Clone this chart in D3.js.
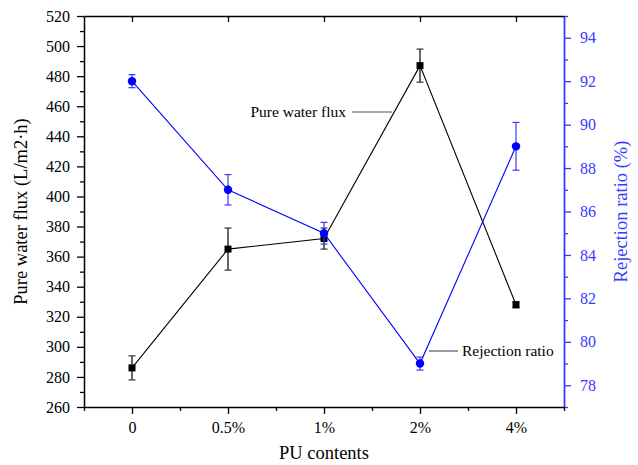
<!DOCTYPE html>
<html><head><meta charset="utf-8">
<script src="https://cdn.jsdelivr.net/npm/d3@7"></script>
<style>body{margin:0;background:#fff}svg{display:block}svg text{font-family:'Times New Roman',Times,'Liberation Serif','DejaVu Serif',serif !important}</style>
</head><body><svg id="c" width="638" height="465"></svg>
<script>
const categories = ["0","0.5%","1%","2%","4%"];
const fluxValues = [286, 365, 372, 487, 328];
const fluxErrors = [8, 14, 7, 11, 2];
const rejectionValues = [92, 87, 85, 79, 89];
const rejectionErrors = [0.3, 0.7, 0.5, 0.3, 1.1];
const leftTicks = [260,280,300,320,340,360,380,400,420,440,460,480,500,520];
const rightTicks = [78,80,82,84,86,88,90,92,94];

const FONT = "'Times New Roman', Times, 'Liberation Serif', 'DejaVu Serif', serif";
const svg = d3.select("#c");
const L=84, R=564, T=16, B=407;
const blue = "#0000ff", axisBlue = "#3a3aff";
const TICKFS = 16, TITLEFS = 18.5, ANNFS = 15.5;

const x = d3.scaleLinear().domain([-0.5, 4.5]).range([L, R]);
const yL = d3.scaleLinear().domain([260, 520]).range([B, T]);
const yR = d3.scaleLinear().domain([77, 95]).range([B, T]);

function styleText(g, fill){
  g.attr("font-family", FONT);
  g.selectAll("text").attr("font-size",TICKFS).attr("fill",fill).style("font-family", FONT);
}

// left axis
const gL = svg.append("g").attr("transform",`translate(${L},0)`);
gL.call(d3.axisLeft(yL).tickValues(d3.range(270,520,20)).tickSize(4).tickFormat(""));
gL.call(g=>g.selectAll(".domain").remove());
const gL2 = svg.append("g").attr("transform",`translate(${L},0)`);
gL2.call(d3.axisLeft(yL).tickValues(leftTicks).tickSize(7).tickPadding(7).tickSizeOuter(0));
[gL, gL2].forEach(g=>g.selectAll("line").attr("stroke","#000").attr("stroke-width",1.3));
gL2.select(".domain").attr("stroke","#000").attr("stroke-width",1.5);
styleText(gL2, "#000");

// right axis
const gR = svg.append("g").attr("transform",`translate(${R},0)`);
gR.call(d3.axisRight(yR).tickValues(d3.range(77,96,2)).tickSize(4).tickFormat(""));
gR.call(g=>g.selectAll(".domain").remove());
const gR2 = svg.append("g").attr("transform",`translate(${R},0)`);
gR2.call(d3.axisRight(yR).tickValues(rightTicks).tickSize(7).tickPadding(9).tickSizeOuter(0));
[gR, gR2].forEach(g=>g.selectAll("line").attr("stroke",axisBlue).attr("stroke-width",1.3));
gR2.select(".domain").attr("stroke",axisBlue).attr("stroke-width",1.8);
styleText(gR2, axisBlue);

// bottom axis
const gB = svg.append("g").attr("transform",`translate(0,${B})`);
gB.call(d3.axisBottom(x).tickValues([-0.5,0.5,1.5,2.5,3.5,4.5]).tickSize(4).tickFormat(""));
gB.call(g=>g.selectAll(".domain").remove());
const gB2 = svg.append("g").attr("transform",`translate(0,${B})`);
gB2.call(d3.axisBottom(x).tickValues([0,1,2,3,4]).tickSize(7).tickPadding(7.5).tickSizeOuter(0).tickFormat(i=>categories[i]));
[gB, gB2].forEach(g=>g.selectAll("line").attr("stroke","#000").attr("stroke-width",1.3));
gB2.select(".domain").attr("stroke","#000").attr("stroke-width",1.5);
styleText(gB2, "#000");

// top axis
const gT = svg.append("g").attr("transform",`translate(0,${T})`);
gT.call(d3.axisBottom(x).tickValues([0,1,2,3,4]).tickSize(6).tickFormat("").tickSizeOuter(0));
gT.selectAll("line").attr("stroke","#000").attr("stroke-width",1.3);
gT.select(".domain").attr("stroke","#000").attr("stroke-width",1.5);

// titles
svg.append("text").attr("transform",`translate(27,${(T+B)/2}) rotate(-90)`).attr("text-anchor","middle")
  .attr("font-size",TITLEFS).style("font-family",FONT).text("Pure water flux (L/m2·h)");
svg.append("text").attr("transform",`translate(627,${(T+B)/2}) rotate(-90)`).attr("text-anchor","middle")
  .attr("font-size",TITLEFS).attr("fill",axisBlue).style("font-family",FONT).text("Rejection ratio (%)");
svg.append("text").attr("x",(L+R)/2).attr("y",459).attr("text-anchor","middle")
  .attr("font-size",TITLEFS).style("font-family",FONT).text("PU contents");

const idx = d3.range(categories.length);

// flux series
svg.append("path").datum(idx).attr("fill","none").attr("stroke","#000").attr("stroke-width",1.1)
  .attr("d", d3.line().x(i=>x(i)).y(i=>yL(fluxValues[i])));
const eF = svg.append("g");
idx.forEach(i=>{
  const xx=x(i), y1=yL(fluxValues[i]+fluxErrors[i]), y2=yL(fluxValues[i]-fluxErrors[i]);
  eF.append("line").attr("x1",xx).attr("x2",xx).attr("y1",y1).attr("y2",y2).attr("stroke","#000").attr("stroke-width",1.2);
  [y1,y2].forEach(yy=>eF.append("line").attr("x1",xx-3.5).attr("x2",xx+3.5).attr("y1",yy).attr("y2",yy).attr("stroke","#333").attr("stroke-width",1.2));
});
svg.append("g").selectAll("rect").data(idx).join("rect")
  .attr("x",i=>x(i)-3.5).attr("y",i=>yL(fluxValues[i])-3.5).attr("width",7).attr("height",7).attr("fill","#000");

// rejection series
svg.append("path").datum(idx).attr("fill","none").attr("stroke",blue).attr("stroke-width",1.1)
  .attr("d", d3.line().x(i=>x(i)).y(i=>yR(rejectionValues[i])));
const eR = svg.append("g");
idx.forEach(i=>{
  const xx=x(i), y1=yR(rejectionValues[i]+rejectionErrors[i]), y2=yR(rejectionValues[i]-rejectionErrors[i]);
  eR.append("line").attr("x1",xx).attr("x2",xx).attr("y1",y1).attr("y2",y2).attr("stroke",axisBlue).attr("stroke-width",1.2);
  [y1,y2].forEach(yy=>eR.append("line").attr("x1",xx-3.5).attr("x2",xx+3.5).attr("y1",yy).attr("y2",yy).attr("stroke",axisBlue).attr("stroke-width",1.2));
});
svg.append("g").selectAll("circle").data(idx).join("circle")
  .attr("cx",i=>x(i)).attr("cy",i=>yR(rejectionValues[i])).attr("r",4.2).attr("fill",blue);

// annotations
svg.append("line").attr("x1",352).attr("x2",392).attr("y1",112).attr("y2",112).attr("stroke","#555").attr("stroke-width",1.2);
svg.append("text").attr("x",346).attr("y",117).attr("text-anchor","end").attr("font-size",ANNFS).style("font-family",FONT).text("Pure water flux");
svg.append("line").attr("x1",429).attr("x2",458).attr("y1",351).attr("y2",351).attr("stroke","#555").attr("stroke-width",1.2);
svg.append("text").attr("x",462).attr("y",356).attr("font-size",ANNFS).style("font-family",FONT).text("Rejection ratio");
</script></body></html>
